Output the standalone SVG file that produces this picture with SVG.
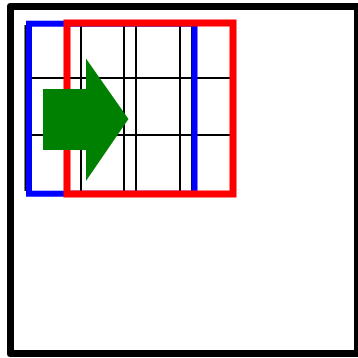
<svg xmlns="http://www.w3.org/2000/svg" width="358" height="358" viewBox="0 0 358 358">
<style>
.grid line{stroke:#000;stroke-width:2}
</style>
<rect width="358" height="358" fill="#fff"/>
<g id="frame"><rect x="10.5" y="6.5" width="347" height="347" fill="none" stroke="#000" stroke-width="7" stroke-linejoin="round"/></g>
<g id="grid" class="grid">
<line x1="25.5" y1="25" x2="25.5" y2="191"/>
<line x1="81" y1="25" x2="81" y2="191"/>
<line x1="136" y1="25" x2="136" y2="191"/>
<line x1="192" y1="25" x2="192" y2="191"/>
<line x1="124" y1="25" x2="124" y2="191"/>
<line x1="180" y1="25" x2="180" y2="191"/>
<line x1="25" y1="78" x2="230" y2="78"/>
<line x1="25" y1="135" x2="230" y2="135"/>
</g>
<g id="blue"><rect x="29" y="23.7" width="165.5" height="170" fill="none" stroke="#00f" stroke-width="6"/></g>
<g id="red"><rect x="67" y="23" width="166" height="171" fill="none" stroke="#f00" stroke-width="7"/></g>
<g id="arrow"><polygon points="43,89 86,89 86,58.5 128.5,119 86,181 86,150 43,150" fill="#008000"/></g>
</svg>
